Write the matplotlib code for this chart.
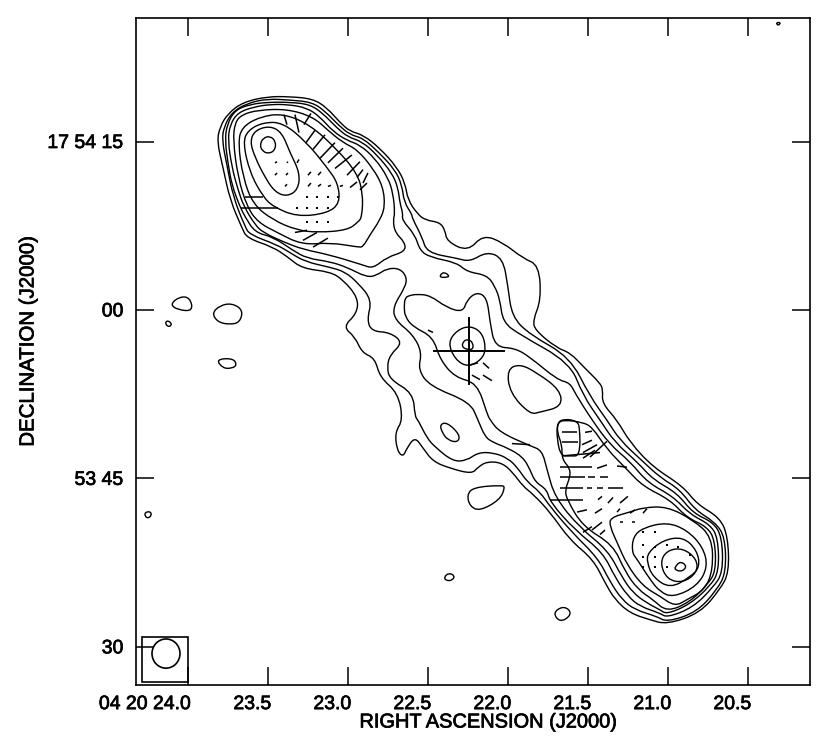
import matplotlib
matplotlib.use("Agg")
import matplotlib.pyplot as plt
import matplotlib.patheffects as pe
from matplotlib.collections import LineCollection
from matplotlib.patches import Ellipse, Rectangle, PathPatch
from matplotlib.path import Path
from matplotlib.transforms import ScaledTranslation

plt.rcParams['font.family'] = ['Liberation Sans', 'DejaVu Sans']

# Contours: (right ascension seconds past 04 20, declination seconds past 17 53 00)
contour_1 = [(23.821,75.0),(23.803,76.3),(23.753,77.5),(23.659,78.5),(23.509,79.0),(23.365,79.0),(23.221,78.8),(23.134,78.0),(23.053,76.7),(22.990,75.9),(22.909,75.6),(22.803,74.4),(22.696,72.7),(22.646,71.3),(22.628,69.8),(22.571,68.6),(22.521,68.0),(22.428,67.8),(22.396,67.1),(22.384,66.1),(22.253,65.2),(22.159,66.7),(22.034,66.0),(21.909,64.6),(21.809,64.0),(21.796,60.9),(21.846,59.1),(21.834,58.2),(21.696,56.6),(21.615,56.2),(21.521,54.8),(21.428,53.5),(21.409,52.9),(21.415,51.7),(21.321,50.2),(21.240,48.2),(21.096,46.0),(20.909,44.3),(20.821,42.7),(20.678,41.5),(20.628,39.8),(20.621,36.6),(20.678,35.1),(20.803,33.0),(21.009,32.0),(21.115,32.4),(21.240,33.0),(21.334,34.2),(21.396,35.7),(21.471,37.8),(21.615,39.5),(21.740,42.0),(21.846,43.6),(21.909,44.3),(21.971,45.5),(22.040,46.4),(22.134,46.5),(22.190,46.0),(22.228,45.4),(22.365,45.9),(22.471,46.5),(22.534,47.7),(22.584,48.7),(22.634,47.7),(22.659,46.9),(22.696,47.5),(22.709,49.1),(22.659,50.2),(22.690,52.6),(22.803,54.0),(22.834,55.7),(22.915,56.2),(22.959,57.6),(23.034,58.5),(22.946,59.7),(22.940,61.1),(23.034,62.7),(23.115,63.4),(23.290,63.7),(23.378,64.7),(23.471,65.6),(23.634,66.4),(23.665,67.3),(23.740,69.8),(23.784,72.7)]
contour_2 = [(23.790,75.1),(23.778,76.3),(23.728,77.6),(23.634,78.4),(23.509,78.8),(23.365,78.7),(23.227,78.5),(23.146,77.7),(23.065,76.5),(22.990,75.6),(22.909,75.3),(22.815,74.1),(22.709,72.5),(22.665,71.1),(22.652,69.6),(22.602,68.5),(22.602,68.2),(22.540,66.5),(22.509,65.1),(22.321,64.6),(22.240,64.3),(22.134,65.2),(22.034,64.6),(22.003,62.1),(21.978,59.4),(21.865,57.8),(21.615,55.8),(21.490,52.3),(21.384,50.2),(21.303,48.4),(21.159,46.5),(21.053,45.1),(20.928,44.0),(20.834,42.2),(20.709,41.1),(20.646,39.8),(20.640,36.6),(20.696,35.1),(20.821,33.1),(21.009,32.2),(21.071,32.7),(21.209,33.3),(21.290,34.2),(21.365,35.8),(21.440,37.9),(21.603,40.2),(21.740,42.5),(21.803,43.8),(21.884,44.7),(21.940,45.9),(22.003,46.8),(22.096,47.3),(22.190,47.3),(22.259,46.6),(22.346,46.5),(22.459,47.8),(22.509,48.6),(22.565,50.2),(22.584,50.5),(22.596,52.6),(22.740,53.8),(22.759,54.9),(22.740,56.0),(22.659,57.1),(22.740,58.0),(22.853,58.1),(22.884,59.1),(22.853,60.9),(22.940,62.4),(23.021,63.4),(23.115,63.8),(23.271,64.3),(23.365,65.1),(23.446,65.8),(23.615,66.7),(23.646,67.4),(23.721,70.1),(23.759,72.9)]
contour_3 = [(23.771,75.1),(23.759,76.5),(23.709,77.8),(23.615,78.3),(23.509,78.5),(23.365,78.5),(23.240,78.3),(23.159,77.5),(23.071,76.2),(23.003,75.4),(22.915,75.0),(22.821,73.8),(22.728,72.2),(22.690,70.9),(22.678,69.5),(22.659,68.6),(22.665,68.0),(22.584,66.7),(22.553,65.3),(22.490,64.7),(22.321,64.2),(22.259,63.4),(22.134,63.1),(22.084,62.1),(22.053,60.9),(22.034,58.9),(21.928,57.8),(21.615,55.3),(21.534,52.4),(21.428,50.2),(21.334,48.2),(21.190,46.4),(21.096,44.9),(20.946,43.7),(20.846,41.9),(20.721,41.1),(20.665,39.8),(20.659,36.6),(20.721,35.3),(20.846,33.5),(21.009,32.6),(21.053,33.0),(21.178,33.6),(21.253,34.5),(21.334,36.2),(21.409,38.4),(21.584,40.4),(21.740,42.9),(21.759,44.0),(21.834,44.7),(21.865,45.8),(21.909,46.9),(22.003,47.7),(22.096,48.2),(22.146,48.7),(22.190,50.2),(22.240,51.8),(22.490,53.2),(22.565,54.7),(22.540,56.2),(22.596,57.8),(22.709,59.1),(22.721,60.3),(22.646,62.0),(22.634,62.9),(22.678,63.7),(22.759,63.7),(22.821,63.1),(22.884,62.9),(23.009,63.8),(23.115,64.3),(23.259,64.6),(23.346,65.3),(23.471,66.5),(23.584,66.9),(23.646,68.3),(23.678,69.2),(23.728,71.1),(23.753,73.1)]
contour_4 = [(22.646,61.1),(22.615,61.3),(22.571,61.4),(22.490,61.3),(22.384,60.2),(22.284,59.8),(22.259,60.9),(22.196,61.6),(22.134,61.1),(22.115,58.9),(22.084,56.7),(21.959,56.6),(21.865,55.8),(21.696,53.8),(21.615,53.5),(21.584,52.6),(21.478,50.2),(21.365,48.0),(21.240,46.5),(21.128,44.6),(20.971,43.4),(20.865,41.8),(20.740,40.9),(20.690,39.7),(20.684,36.7),(20.740,35.4),(20.865,33.8),(21.009,32.9),(21.053,33.3),(21.134,33.9),(21.221,34.8),(21.290,36.2),(21.378,38.6),(21.553,40.6),(21.709,43.3),(21.759,45.8),(21.790,47.5),(21.865,47.9),(22.053,49.1),(22.115,50.2),(22.134,50.8),(22.196,53.5),(22.334,54.0),(22.428,55.6),(22.471,57.6),(22.596,58.5),(22.646,59.4),(22.652,60.3)]
north_1 = [(23.753,75.1),(23.740,76.5),(23.690,77.6),(23.584,78.1),(23.490,78.3),(23.378,78.3),(23.259,78.0),(23.178,77.2),(23.096,75.9),(23.009,75.1),(22.928,74.7),(22.834,73.5),(22.753,71.8),(22.721,70.4),(22.709,68.6),(22.721,68.0),(22.709,66.9),(22.646,66.0),(22.646,65.2),(22.759,64.7),(22.846,63.7),(22.909,64.0),(23.115,64.9),(23.284,65.4),(23.396,66.0),(23.534,66.9),(23.584,67.6),(23.653,69.2),(23.690,70.7),(23.728,72.7)]
north_2 = [(23.721,75.1),(23.709,76.7),(23.665,77.4),(23.565,77.8),(23.384,77.9),(23.221,77.2),(23.128,76.0),(23.034,74.9),(22.946,74.3),(22.846,72.6),(22.784,71.0),(22.771,69.2),(22.803,68.0),(22.865,66.7),(22.909,65.6),(22.940,65.6),(23.115,66.0),(23.290,65.8),(23.446,66.9),(23.565,67.8),(23.634,69.2),(23.690,71.8)]
north_3 = [(23.690,74.9),(23.665,76.3),(23.553,77.2),(23.409,77.5),(23.240,76.5),(23.071,74.3),(22.946,72.2),(22.909,70.4),(22.915,68.3),(22.940,67.8),(23.009,67.1),(23.190,66.9),(23.321,67.1),(23.471,68.0),(23.596,69.4),(23.659,71.8)]
north_4 = [(23.659,74.9),(23.628,76.0),(23.534,76.7),(23.409,76.7),(23.259,74.9),(23.134,72.7),(23.065,71.3),(23.053,69.5),(23.134,68.6),(23.321,68.3),(23.471,69.2),(23.534,70.1),(23.615,72.2)]
north_5 = [(23.615,75.0),(23.584,76.0),(23.490,76.4),(23.415,75.8),(23.365,74.0),(23.303,72.2),(23.315,70.7),(23.384,70.1),(23.459,70.5),(23.521,71.8),(23.584,73.6)]
north_peak = [(23.553,74.7),(23.534,75.3),(23.490,75.5),(23.453,75.0),(23.459,74.2),(23.503,73.9),(23.540,74.2)]
south_1 = [(21.696,49.1),(21.665,48.0),(21.665,46.7),(21.615,45.9),(21.615,45.1),(21.646,44.0),(21.634,43.1),(21.534,40.7),(21.346,39.1),(21.271,36.7),(21.190,35.1),(21.096,34.2),(21.009,33.1),(20.865,34.0),(20.759,35.5),(20.703,36.7),(20.709,39.5),(20.759,40.7),(20.884,41.5),(20.990,43.1),(21.159,44.3),(21.259,45.8),(21.384,47.6),(21.478,49.6),(21.540,50.0),(21.646,50.2),(21.690,50.0)]
south_2 = [(21.365,41.5),(21.240,42.0),(21.159,42.4),(21.009,42.5),(20.846,41.3),(20.728,39.8),(20.721,36.9),(20.771,35.1),(20.884,34.2),(20.959,33.6),(21.053,34.5),(21.159,35.4),(21.259,37.3),(21.321,39.3),(21.365,40.7)]
south_3 = [(21.221,39.8),(21.159,40.6),(21.009,41.1),(20.884,40.4),(20.784,38.9),(20.753,37.1),(20.821,35.4),(20.971,34.4),(21.053,34.9),(21.115,36.0),(21.196,37.8),(21.228,38.4)]
south_4 = [(21.128,38.4),(21.034,39.5),(20.909,39.8),(20.821,38.6),(20.803,37.1),(20.865,36.2),(20.990,35.2),(21.096,36.2),(21.134,37.5)]
south_5 = [(21.053,37.5),(21.009,38.6),(20.909,38.8),(20.821,37.8),(20.821,36.6),(20.909,35.7),(21.009,36.0)]
south_peak = [(20.959,37.1),(20.928,37.6),(20.890,37.3),(20.896,36.9),(20.928,36.7),(20.959,36.9)]
south_box = [(21.696,50.0),(21.646,50.3),(21.571,50.1),(21.553,49.5),(21.553,47.0),(21.615,47.0),(21.671,47.0),(21.696,48.4)]
core_ring = [(22.378,57.1),(22.321,58.2),(22.240,58.6),(22.165,58.0),(22.140,56.6),(22.165,55.6),(22.253,54.9),(22.334,55.6)]
core_peak = [(22.290,56.6),(22.284,57.2),(22.253,57.4),(22.221,57.1),(22.221,56.4)]
bay_island = [(22.009,54.7),(21.928,55.2),(21.821,54.4),(21.678,52.9),(21.665,51.4),(21.803,50.9),(21.865,50.7),(21.990,52.6)]
island_a = [(24.115,60.5),(24.053,61.2),(23.990,61.1),(23.971,59.9),(24.065,60.0)]
island_b = [(23.853,59.7),(23.803,60.4),(23.728,60.6),(23.659,60.0),(23.678,58.9),(23.740,58.7),(23.815,58.9)]
island_c = [(23.828,55.6),(23.721,55.7),(23.696,55.1),(23.728,54.8),(23.784,54.8)]
island_d = [(21.721,33.0),(21.665,33.6),(21.615,33.3),(21.615,32.7),(21.678,32.2)]
island_e = [(22.259,43.5),(22.221,44.2),(22.040,44.4),(22.021,44.2),(22.053,43.1),(22.178,42.1),(22.240,42.5)]
island_f = [(22.434,62.9),(22.409,63.4),(22.371,63.1),(22.378,62.9)]
island_g = [(22.428,49.8),(22.384,50.0),(22.303,48.9),(22.315,48.2),(22.378,48.4),(22.415,49.1)]
island_h = [(22.403,36.2),(22.371,36.6),(22.334,36.3),(22.353,35.9),(22.390,35.9)]
island_i = [(24.278,41.9),(24.240,42.1),(24.228,41.7),(24.259,41.4)]
island_j = [(24.146,59.0),(24.115,59.0),(24.103,58.6),(24.134,58.5)]
island_k = [(20.328,85.6),(20.296,85.6),(20.315,85.3)]

# Polarization vectors: (ra0, dec0, ra1, dec1)
vectors_north = [(23.403,77.4,23.384,76.5),(23.334,77.4,23.309,75.8),(23.234,77.5,23.278,76.5),(23.265,74.9,23.209,76.0),(23.221,74.3,23.146,75.6),(23.178,73.5,23.084,74.9),(23.128,73.1,23.034,74.4),(23.084,72.6,22.978,73.8),(23.009,72.0,22.928,73.2),(22.946,71.8,22.909,72.5),(22.909,71.3,22.878,72.2),(22.990,70.9,22.946,71.4),(22.928,70.7,22.884,71.3),(23.321,73.1,23.309,73.4),(23.253,72.0,23.234,72.3),(23.190,72.0,23.171,72.3),(23.253,71.0,23.234,71.3),(23.190,71.0,23.171,71.2),(23.128,71.0,23.109,71.1),(23.053,71.0,23.034,71.1),(23.459,73.1,23.446,73.2),(23.384,73.1,23.378,73.2),(23.459,72.0,23.446,72.2),(23.390,72.0,23.378,72.2),(23.396,71.0,23.384,71.2),(23.646,70.1,23.534,70.1),(23.671,69.1,23.440,69.1),(23.334,66.9,23.259,67.1),(23.284,66.2,23.196,66.9),(23.221,65.6,23.128,66.4)]
vectors_core = [(22.503,58.2,22.471,58.0),(22.240,55.1,22.190,55.3),(22.159,55.3,22.121,54.8),(22.228,54.2,22.178,53.8),(22.159,54.2,22.103,53.7),(21.978,48.1,21.865,48.0)]
vectors_south = [(21.665,49.1,21.571,49.1),(21.521,49.1,21.478,49.2),(21.665,48.2,21.565,48.2),(21.540,48.0,21.478,48.4),(21.665,47.0,21.428,47.3),(21.534,46.8,21.459,47.5),(21.490,46.9,21.384,48.3),(21.534,47.3,21.446,48.0),(21.678,46.0,21.478,46.0),(21.446,45.9,21.384,46.2),(21.321,46.1,21.259,46.0),(21.678,45.1,21.521,45.1),(21.503,45.1,21.459,45.1),(21.428,45.1,21.378,45.1),(21.678,44.1,21.534,44.1),(21.509,44.1,21.478,44.1),(21.446,44.1,21.409,44.1),(21.378,44.1,21.284,44.1),(21.740,43.1,21.534,43.1),(21.440,43.1,21.415,43.4),(21.378,42.8,21.346,43.3),(21.303,42.8,21.253,43.4),(21.571,42.0,21.509,42.2),(21.459,41.9,21.415,42.3),(21.321,42.0,21.303,42.3),(21.240,41.9,21.209,42.2),(21.159,41.9,21.134,42.3),(21.534,40.2,21.478,40.7),(21.478,40.4,21.415,41.1),(21.303,41.1,21.284,41.1),(21.228,41.1,21.209,41.1),(21.428,40.0,21.396,40.4)]
dots_north = [(23.259,70.1),(23.196,70.1),(23.128,70.1),(23.065,70.1),(23.321,69.1),(23.259,69.1),(23.196,69.1),(23.128,69.1),(23.259,67.8),(23.196,67.8),(23.128,67.8)]
dots_south = [(21.159,40.2),(21.084,40.2),(21.159,39.1),(21.159,38.0),(21.084,38.9),(21.009,39.1),(20.940,38.9),(20.865,38.2),(21.084,38.0),(21.159,37.1),(21.084,37.1),(21.009,37.1)]

# Optical position cross: centre and half-extents
cross_ra, cross_dec = 22.246, 56.36
cross_ra_half, cross_dec_half = 0.219, 2.95

# Restoring beam
beam_ra, beam_dec, beam_width, beam_height = 24.14, 29.4, 0.175, 2.6
beam_box = (24.0, 26.9, 0.2875, 4.0)

# Axes
ra_limits = (24.3275, 20.115)
dec_limits = (26.6, 86.0)
ra_ticks = [24.0, 23.5, 23.0, 22.5, 22.0, 21.5, 21.0, 20.5]
ra_labels = ['04 20 24.0', '23.5', '23.0', '22.5', '22.0', '21.5', '21.0', '20.5']
dec_ticks = [30, 45, 60, 75]
dec_labels = ['30', '53 45', '00', '17 54 15']

all_contours = [contour_1, contour_2, contour_3, contour_4,
                north_1, north_2, north_3, north_4, north_5, north_peak,
                south_1, south_2, south_3, south_4, south_5, south_peak, south_box,
                core_ring, core_peak, bay_island,
                island_a, island_b, island_c, island_d, island_e, island_f,
                island_g, island_h, island_i, island_j, island_k]


def rounded_closed_path(points):
    """Closed curve with the read points as quadratic control vertices."""
    n = len(points)
    mid = [((points[i][0] + points[(i + 1) % n][0]) / 2,
            (points[i][1] + points[(i + 1) % n][1]) / 2) for i in range(n)]
    verts = [mid[-1]]
    codes = [Path.MOVETO]
    for i in range(n):
        verts += [points[i], mid[i]]
        codes += [Path.CURVE3, Path.CURVE3]
    return Path(verts, codes)


fig = plt.figure(figsize=(8.3, 7.43), dpi=100)
ax = fig.add_axes([136 / 830, 1 - 685 / 743, 674 / 830, 667 / 743])
ax.set_xlim(*ra_limits)
ax.set_ylim(*dec_limits)

for c in all_contours:
    ax.add_patch(PathPatch(rounded_closed_path(c), fill=False, ec='black', lw=1.0))

segments = [[(v[0], v[1]), (v[2], v[3])] for v in vectors_north + vectors_core + vectors_south]
ax.add_collection(LineCollection(segments, colors='black', linewidths=1.1))
dots = dots_north + dots_south
ax.plot([d[0] for d in dots], [d[1] for d in dots], ls='none', marker='s', ms=1.6, color='black', mew=0)

ax.plot([cross_ra - cross_ra_half, cross_ra + cross_ra_half], [cross_dec, cross_dec], color='black', lw=1.4)
ax.plot([cross_ra, cross_ra], [cross_dec - cross_dec_half, cross_dec + cross_dec_half], color='black', lw=1.4)

ax.add_patch(Rectangle((beam_box[0], beam_box[1]), beam_box[2], beam_box[3], fill=False, ec='black', lw=1.2))
ax.add_patch(Ellipse((beam_ra, beam_dec), beam_width, beam_height, fill=False, ec='black', lw=1.2))

ax.set_xticks(ra_ticks)
ax.set_xticklabels(ra_labels)
ax.set_yticks(dec_ticks)
ax.set_yticklabels(dec_labels)
ax.tick_params(axis='both', direction='in', length=13, width=1.1, top=True, right=True,
               labelsize=14, pad=9, colors='black')
ax.tick_params(axis='x', pad=8)
shift = ScaledTranslation(3 / 100, 0, fig.dpi_scale_trans)
weight = [pe.withStroke(linewidth=0.5, foreground='black')]
for lab in ax.get_xticklabels():
    lab.set_ha('right')
    lab.set_transform(lab.get_transform() + shift)
    lab.set_path_effects(weight)
for lab in ax.get_yticklabels():
    lab.set_path_effects(weight)
for s in ax.spines.values():
    s.set_linewidth(1.2)

fig.text(488 / 830, 1 - 722 / 743, 'RIGHT ASCENSION (J2000)', ha='center', va='center',
         fontsize=14.4, path_effects=weight)
fig.text(28 / 830, 1 - 342 / 743, 'DECLINATION (J2000)', ha='center', va='center', rotation=90,
         fontsize=14.7, path_effects=weight)

fig.savefig('out.png', dpi=100)
